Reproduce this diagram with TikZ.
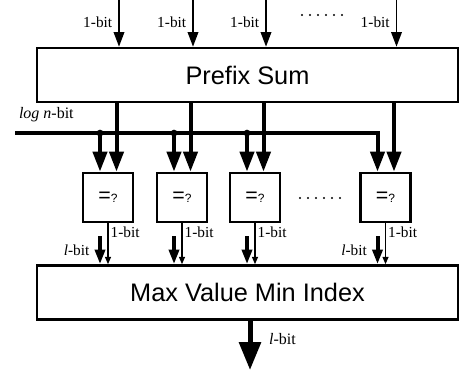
\documentclass[tikz,border=0pt]{standalone}
\usepackage{fontspec}
\setmainfont{Liberation Serif}
\newfontfamily\boxfont{Liberation Sans}
\usetikzlibrary{arrows.meta}
\usetikzlibrary{calc}

\tikzset{
	block/.style={draw,line width=2pt,minimum width=315.75pt,minimum height=40.5pt,inner sep=0pt,font=\boxfont\fontsize{19}{22}\selectfont},
	cmpbox/.style={draw,line width=2pt,minimum width=37.5pt,minimum height=36.75pt,inner sep=0pt,font=\boxfont},
	bitlabel/.style={font=\fontsize{11.5}{13}\selectfont,inner sep=1.5pt},
	inarrow/.style={line width=1.2pt,arrows=-{Triangle[length=11pt,width=8pt]}},
	busarrow/.style={line width=3pt,arrows=-{Triangle[length=15pt,width=10.5pt]}},
	outarrow/.style={line width=3pt,arrows=-{Triangle[length=11pt,width=7.5pt]}},
	thinarrow/.style={line width=0.9pt,arrows=-{Triangle[length=5.5pt,width=4.5pt]}},
	bigarrow/.style={line width=3.75pt,arrows=-{Triangle[length=21pt,width=16pt]}}
}

\begin{document}
\begin{tikzpicture}[x=0.75pt,y=-0.75pt]
	\useasboundingbox (0,0) rectangle (459,372);
	\node[block] (prefix) at (247.5,75) {Prefix Sum};
	\node[block] (mvmi) at (247.5,292.5) {Max Value Min Index};
	\node[cmpbox] (cmp1) at (108,197.5) {{\fontsize{16}{16}\selectfont=}{\fontsize{9}{9}\selectfont?}};
	\node[cmpbox] (cmp2) at (182,197.5) {{\fontsize{16}{16}\selectfont=}{\fontsize{9}{9}\selectfont?}};
	\node[cmpbox] (cmp3) at (255,197.5) {{\fontsize{16}{16}\selectfont=}{\fontsize{9}{9}\selectfont?}};
	\node[cmpbox] (cmp4) at (385.5,197.5) {{\fontsize{16}{16}\selectfont=}{\fontsize{9}{9}\selectfont?}};
	\coordinate (top) at (0,0);
	\coordinate (logn) at (15,133);
	\coordinate (out) at (250,370);
	\foreach \i in {1,...,4}{
		\coordinate (in\i) at ($(cmp\i.north)+(11,0)$);
		\coordinate (L\i) at ($(cmp\i.north)+(-8,0)$);
		\coordinate (R\i) at ($(cmp\i.north)+(8.5,0)$);
		\coordinate (D\i) at ($(cmp\i.south)+(-8,13)$);
		\draw[inarrow] (in\i |- top) -- (in\i |- prefix.north) node[pos=.48,left=3pt,bitlabel] (inlbl\i) {1-bit};
		\draw[busarrow] (R\i |- prefix.south) -- (R\i);
		\draw[thinarrow] (cmp\i.south) -- (cmp\i.south |- mvmi.north) node[pos=.23,right,bitlabel] (onelbl\i) {1-bit};
	}
	\draw[busarrow] (logn) -| (L4) node[pos=0,anchor=south west,yshift=5pt,bitlabel,font=\fontsize{12}{14}\selectfont] (lognlbl) {\textit{log n}-bit};
	\foreach \i in {1,...,3}{
		\fill (L\i |- logn) circle (2.5pt);
		\draw[busarrow] (L\i |- logn) -- (L\i);
	}
	\draw[outarrow] (D1) -- (D1 |- mvmi.north) node[midway,left=5pt,bitlabel] (llbl1) {\textit{l}-bit};
	\draw[outarrow] (D2) -- (D2 |- mvmi.north);
	\draw[outarrow] (D3) -- (D3 |- mvmi.north);
	\draw[outarrow] (D4) -- (D4 |- mvmi.north) node[midway,left=5pt,bitlabel] (llbl4) {\textit{l}-bit};
	\draw[bigarrow] (mvmi.south -| out) -- (out) node[pos=.36,right=11pt,bitlabel,font=\fontsize{12}{14}\selectfont] (outlbl) {\textit{l}-bit};
	\foreach \k in {0,...,5}{
		\fill (302+8*\k,15) circle (0.8pt);
		\fill (300+8*\k,198) circle (0.8pt);
	}
\end{tikzpicture}
\end{document}
